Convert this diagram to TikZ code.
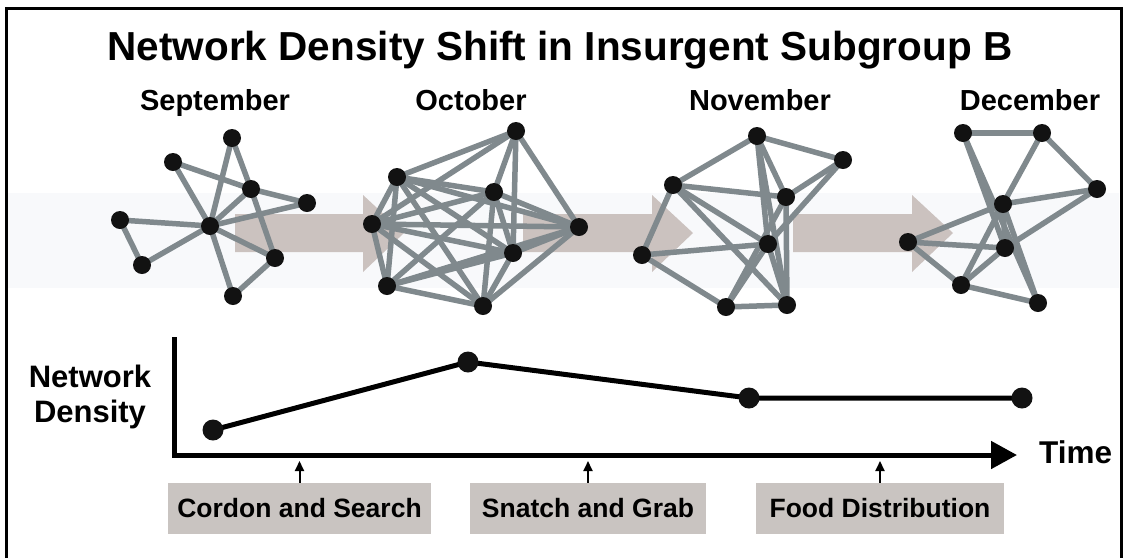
\documentclass[tikz,border=0pt]{standalone}
\usepackage{fontspec}
\setmainfont{Liberation Sans}
\usetikzlibrary{arrows.meta}
\pgfdeclarelayer{back}
\pgfdeclarelayer{edges}
\pgfsetlayers{back,edges,main}
\definecolor{edgegrey}{RGB}{128,137,141}
\definecolor{bandcol}{RGB}{203,194,191}
\definecolor{boxcol}{RGB}{201,196,193}
\definecolor{glow}{RGB}{248,249,251}
\begin{document}
\begin{tikzpicture}[x=1pt,y=-1pt,
  dot/.style={circle,fill=black!93,inner sep=0pt,minimum size=18pt},
  cdot/.style={circle,fill=black!93,inner sep=0pt,minimum size=21pt},
  edge/.style={draw=edgegrey,line width=5.5pt},
  band/.style={fill=bandcol,draw=none},
  lab/.style={font=\bfseries\fontsize{29}{33}\selectfont,inner sep=0pt},
  ylab/.style={font=\bfseries\fontsize{31}{35}\selectfont,inner sep=0pt},
  actbox/.style={fill=boxcol,draw=none,minimum height=51pt,inner sep=0pt,font=\bfseries\fontsize{26.5}{30}\selectfont},
  small/.style={line width=2pt,-{Triangle[length=10pt,width=9pt]}}]
\useasboundingbox (0,0) rectangle (1125,558);
% frame
\draw[line width=3pt] (6,558) -- (6,8) -- (1121,8) -- (1121,558);
% faint glow band and arrows
\begin{pgfonlayer}{back}
\fill[glow] (8,193) rectangle (1119,288);
\fill[band] (235,214) -- (363,214) -- (363,195) -- (404,233) -- (363,272) -- (363,252) -- (235,252) -- cycle;
\fill[band] (523,214) -- (652,214) -- (652,195) -- (693,233) -- (652,272) -- (652,252) -- (523,252) -- cycle;
\fill[band] (793,214) -- (912,214) -- (912,195) -- (953,233) -- (912,272) -- (912,252) -- (793,252) -- cycle;
\end{pgfonlayer}
% title and months
\node[font=\bfseries\fontsize{40.5}{44}\selectfont,anchor=base,inner sep=0pt] (title) at (560,60) {Network Density Shift in Insurgent Subgroup B};
\node[lab,anchor=base] (m1) at (215,110) {September};
\node[lab,anchor=base] (m2) at (471,110) {October};
\node[lab,anchor=base] (m3) at (760,110) {November};
\node[lab,anchor=base] (m4) at (1030,110) {December};
% September
\node[dot] (s1) at (232,138) {};
\node[dot] (s2) at (173,162) {};
\node[dot] (s3) at (251,189) {};
\node[dot] (s4) at (307,203) {};
\node[dot] (s5) at (210,226) {};
\node[dot] (s6) at (120,220) {};
\node[dot] (s7) at (142,265) {};
\node[dot] (s8) at (275,258) {};
\node[dot] (s9) at (233,296) {};
\begin{pgfonlayer}{edges}
\foreach \a/\b in {s1/s5,s1/s3,s3/s8,s2/s3,s2/s5,s3/s4,s3/s5,s4/s5,s6/s5,s6/s7,s7/s5,s5/s8,s5/s9,s8/s9}
  \draw[edge] (\a.center) -- (\b.center);
\end{pgfonlayer}
% October
\node[dot] (o1) at (516,131) {};
\node[dot] (o2) at (397,177) {};
\node[dot] (o3) at (494,192) {};
\node[dot] (o4) at (372,224) {};
\node[dot] (o5) at (579,227) {};
\node[dot] (o6) at (513,253) {};
\node[dot] (o7) at (387,286) {};
\node[dot] (o8) at (483,306) {};
\begin{pgfonlayer}{edges}
\foreach \a/\b in {o1/o2,o1/o3,o1/o4,o1/o5,o1/o6,
  o2/o3,o2/o4,o2/o5,o2/o6,o2/o7,o2/o8,
  o3/o4,o3/o5,o3/o6,o3/o7,o3/o8,
  o4/o5,o4/o6,o4/o7,o4/o8,
  o5/o6,o5/o7,o5/o8,
  o6/o7,o6/o8,o7/o8}
  \draw[edge] (\a.center) -- (\b.center);
\end{pgfonlayer}
% November
\node[dot] (n1) at (757,136) {};
\node[dot] (n2) at (843,160) {};
\node[dot] (n3) at (673,185) {};
\node[dot] (n4) at (786,197) {};
\node[dot] (n5) at (768,244) {};
\node[dot] (n6) at (642,255) {};
\node[dot] (n7) at (726,307) {};
\node[dot] (n8) at (787,305) {};
\begin{pgfonlayer}{edges}
\foreach \a/\b in {n3/n1,n1/n2,n1/n4,n1/n5,n1/n8,n2/n4,n2/n5,n3/n4,n3/n5,n3/n8,n3/n6,n6/n5,n6/n7,n4/n7,n4/n8,n5/n7,n5/n8,n7/n8}
  \draw[edge] (\a.center) -- (\b.center);
\end{pgfonlayer}
% December
\node[dot] (d1) at (963,133) {};
\node[dot] (d2) at (1042,133) {};
\node[dot] (d3) at (1097,189) {};
\node[dot] (d4) at (1003,204) {};
\node[dot] (d5) at (908,242) {};
\node[dot] (d6) at (1005,248) {};
\node[dot] (d7) at (961,285) {};
\node[dot] (d8) at (1038,303) {};
\begin{pgfonlayer}{edges}
\foreach \a/\b in {d1/d2,d2/d3,d2/d4,d1/d6,d1/d8,d4/d3,d3/d6,d5/d4,d5/d6,d5/d7,d4/d7,d4/d6,d4/d8,d6/d7,d7/d8}
  \draw[edge] (\a.center) -- (\b.center);
\end{pgfonlayer}
% chart
\node[ylab,anchor=base] (yl1) at (90,387) {Network};
\node[ylab,anchor=base] (yl2) at (90,422) {Density};
\node[font=\bfseries\fontsize{31.5}{35}\selectfont,anchor=base west,inner sep=0pt] (tl) at (1039,463) {Time};
\coordinate (ytop) at (174,337);
\coordinate (orig) at (174,455);
\coordinate (xend) at (1017,455);
\draw[line width=5pt,-{Triangle[length=26pt,width=27pt]}] (ytop) -- (orig) -- (xend);
\node[cdot] (p1) at (213,430) {};
\node[cdot] (p2) at (468,362) {};
\node[cdot] (p3) at (749,398) {};
\node[cdot] (p4) at (1022,398) {};
\begin{pgfonlayer}{edges}
\draw[line width=5pt,line join=round] (p1.center) -- (p2.center) -- (p3.center) -- (p4.center);
\end{pgfonlayer}
% activities
\node[actbox,minimum width=263pt] (b1) at (299.5,508.5) {Cordon and Search};
\node[actbox,minimum width=236pt] (b2) at (588,508.5) {Snatch and Grab};
\node[actbox,minimum width=248pt] (b3) at (880,508.5) {Food Distribution};
\coordinate (a1) at (b1.north |- 0,461);
\coordinate (a2) at (b2.north |- 0,461);
\coordinate (a3) at (b3.north |- 0,461);
\draw[small] (b1.north) -- (a1);
\draw[small] (b2.north) -- (a2);
\draw[small] (b3.north) -- (a3);
\end{tikzpicture}
\end{document}
